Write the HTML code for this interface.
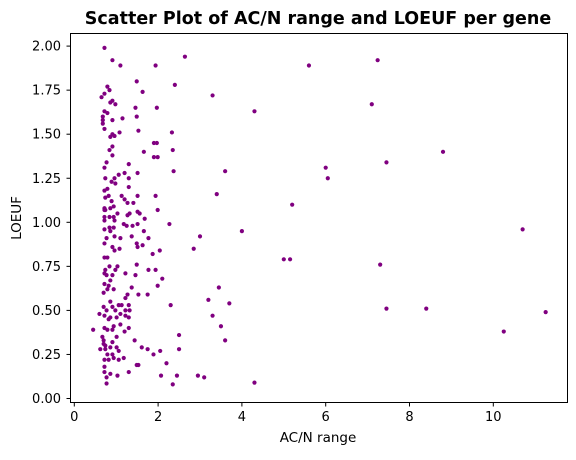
<!DOCTYPE html>
<html><head><meta charset="utf-8"><style>
body{margin:0;background:#fff;font-family:"Liberation Sans","DejaVu Sans",sans-serif}
</style></head><body>
<svg id="chart" width="576" height="455" xmlns="http://www.w3.org/2000/svg" font-family="DejaVu Sans, Liberation Sans, sans-serif">
<text x="318" y="24" text-anchor="middle" font-size="17.5" font-weight="bold">Scatter Plot of AC/N range and LOEUF per gene</text>
<g id="plot"></g>
<rect x="70.5" y="33.5" width="497" height="369" fill="none" stroke="#000" stroke-width="1"/>
<text x="318" y="442" text-anchor="middle" font-size="13.5">AC/N range</text>
<text transform="translate(21,218) rotate(-90)" text-anchor="middle" font-size="13.5">LOEUF</text>
</svg>
<script>
const xs=[0.72,0.91,1.1,1.94,2.64,1.49,2.4,0.79,0.84,0.72,0.65,0.91,0.86,0.98,1.63,1.46,1.97,0.72,0.79,0.68,0.68,0.68,0.91,1.15,1.49,0.72,1.53,1.08,0.91,0.96,0.86,2.33,1.97,0.91,0.84,1.66,2.35,0.91,1.99,0.77,1.3,0.72,2.37,0.74,0.96,0.89,0.98,1.06,1.2,1.51,1.3,1.3,0.72,0.79,0.82,0.74,1.13,1.2,1.27,1.51,1.94,1.41,0.89,0.86,0.94,0.72,0.74,1.51,1.99,1.03,1.27,1.32,1.56,0.72,0.94,
0.72,0.84,0.96,0.72,1.18,1.25,1.39,1.51,1.68,0.84,0.94,0.72,0.86,1.66,0.96,1.1,1.37,0.77,0.72,1.49,1.77,0.91,1.08,0.96,1.51,1.63,1.87,2.04,0.79,0.72,1.49,0.84,1.03,0.74,0.72,0.98,1.22,1.77,1.94,0.77,0.91,1.46,0.86,0.72,0.82,1.99,0.79,0.94,1.37,0.70,1.27,1.53,1.75,0.86,1.22,0.70,0.77,0.91,1.13,1.06,1.3,0.98,1.22,1.32,0.6,0.72,0.86,1.1,1.22,1.3,0.82,1.01,1.1,0.94,0.72,0.45,1.3,0.79,0.91,1.2,0.67,1.01,1.44,0.70,0.91,0.70,0.74,0.86,1.01,1.61,1.75,0.62,0.74,1.06,1.89,0.79,0.91,1.18,0.94,0.72,0.82,1.06,1.53,1.49,0.72,0.72,0.86,1.03,1.3,0.77,0.77,
5.6,7.24,3.3,4.3,7.1,1.9,1.9,8.8,7.45,3.6,6.0,6.05,3.4,5.2,2.27,4.0,3.0,2.85,10.7,5.0,5.15,7.3,2.1,3.45,3.2,3.7,2.3,7.45,8.4,11.25,3.3,3.5,10.25,2.5,3.6,2.5,2.05,2.95,3.1,2.45,2.35,4.3,2.07,2.2];
const ys=[1.99,1.92,1.89,1.89,1.94,1.80,1.78,1.77,1.75,1.73,1.71,1.69,1.68,1.67,1.74,1.65,1.65,1.63,1.62,1.60,1.58,1.56,1.58,1.59,1.60,1.53,1.52,1.51,1.50,1.49,1.485,1.51,1.45,1.43,1.41,1.40,1.41,1.38,1.37,1.34,1.33,1.31,1.29,1.25,1.25,1.23,1.22,1.27,1.28,1.28,1.25,1.20,1.18,1.19,1.15,1.14,1.15,1.13,1.11,1.15,1.15,1.11,1.12,1.08,1.09,1.08,1.07,1.06,1.07,1.05,1.04,1.05,1.05,1.03,1.03,
1.07,1.03,1.01,1.01,0.99,0.98,0.98,0.99,1.02,0.97,0.97,0.96,0.95,0.95,0.92,0.91,0.92,0.91,0.88,0.88,0.91,0.86,0.85,0.84,0.86,0.87,0.82,0.84,0.80,0.80,0.76,0.75,0.75,0.73,0.71,0.73,0.71,0.73,0.73,0.70,0.70,0.70,0.67,0.65,0.64,0.64,0.62,0.62,0.63,0.60,0.59,0.59,0.59,0.55,0.57,0.52,0.50,0.52,0.53,0.53,0.53,0.50,0.50,0.50,0.48,0.47,0.46,0.48,0.47,0.46,0.45,0.46,0.42,0.41,0.40,0.39,0.40,0.39,0.39,0.38,0.35,0.35,0.33,0.33,0.32,0.31,0.30,0.29,0.29,0.29,0.28,0.28,0.28,0.27,0.25,0.25,0.25,0.23,0.23,0.22,0.22,0.22,0.19,0.19,0.18,0.15,0.14,0.13,0.15,0.12,0.085,
1.89,1.92,1.72,1.63,1.67,1.45,1.37,1.40,1.34,1.29,1.31,1.25,1.16,1.10,0.99,0.95,0.92,0.85,0.96,0.79,0.79,0.76,0.68,0.63,0.56,0.54,0.53,0.51,0.51,0.49,0.47,0.41,0.38,0.36,0.33,0.28,0.27,0.13,0.12,0.13,0.08,0.09,0.13,0.20];
const xTicks=[0,2,4,6,8,10];
const yTicks=[0,0.25,0.5,0.75,1.0,1.25,1.5,1.75,2.0];
const NS='http://www.w3.org/2000/svg';
const sx=v=>74.3+v*41.9;
const sy=v=>398.5-v*176.2;
const plot=document.getElementById('plot');
const svg=document.getElementById('chart');
function mk(tag,attrs,parent){const e=document.createElementNS(NS,tag);for(const k in attrs)e.setAttribute(k,attrs[k]);parent.appendChild(e);return e;}
xs.forEach((x,i)=>{
  const c=mk('circle',{cx:sx(x),cy:sy(ys[i]),r:2.1,fill:'#800080'},plot);
  
  
});
xTicks.forEach(t=>{
  const l=mk('line',{x1:sx(t),x2:sx(t),y1:403,y2:406.5,stroke:'#000'},svg);
  
  
  const tx=mk('text',{x:sx(t),y:421,'text-anchor':'middle','font-size':13},svg);
  tx.textContent=String(t);
  
  
});
yTicks.forEach(t=>{
  const l=mk('line',{x1:66.5,x2:70.5,y1:sy(t),y2:sy(t),stroke:'#000'},svg);
  
  
  const tx=mk('text',{x:61,y:sy(t)+4.5,'text-anchor':'end','font-size':13},svg);
  tx.textContent=t.toFixed(2);
  
  
});
</script>
</body></html>
